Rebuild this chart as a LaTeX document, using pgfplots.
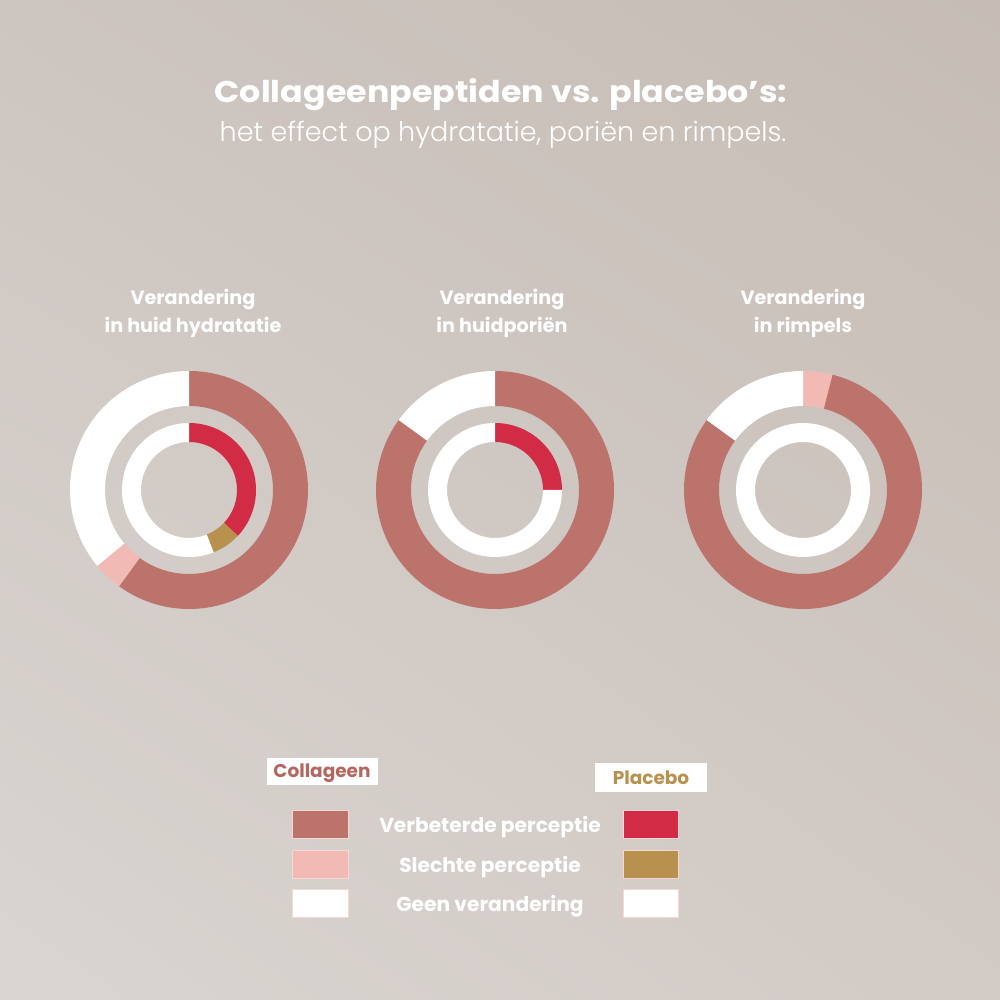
\documentclass[border=0pt]{standalone}
\usepackage{pgfplots}
\pgfplotsset{compat=1.18}
\usepackage{pgfplotstable}
\usetikzlibrary{shadings}
\usepackage{fontspec}
\setmainfont{Poppins}
\newfontfamily\plight{Poppins Light}
\definecolor{bgTL}{HTML}{CDC5C0}
\definecolor{bgTR}{HTML}{C6BCB5}
\definecolor{bgBL}{HTML}{DAD5D1}
\definecolor{bgBR}{HTML}{D2CAC5}
\definecolor{verb}{HTML}{BC736B}
\definecolor{slecht}{HTML}{F2BAB5}
\definecolor{geen}{HTML}{FFFFFF}
\definecolor{pverb}{HTML}{D22B45}
\definecolor{pslecht}{HTML}{B8914F}
\definecolor{collTxt}{HTML}{B5675F}
\definecolor{placTxt}{HTML}{B8914F}

% Collagen (outer ring) and placebo (inner ring), percentages, clockwise from 12 o'clock
\pgfplotstableread{
value color
60 verb
4 slecht
36 geen
}\hydOuter
\pgfplotstableread{
value color
37 pverb
7 pslecht
56 geen
}\hydInner
\pgfplotstableread{
value color
85 verb
15 geen
}\porOuter
\pgfplotstableread{
value color
25 pverb
75 geen
}\porInner
\pgfplotstableread{
value color
4 slecht
81 verb
15 geen
}\rimOuter
\pgfplotstableread{
value color
100 geen
}\rimInner

% #1 table, #2 cx, #3 cy, #4 inner radius, #5 outer radius
\newcommand\ring[5]{%
  \pgfplotstablegetrowsof{#1}\let\nrows\pgfplotsretval
  \xdef\cum{0}%
  \pgfmathtruncatemacro\lastrow{\nrows-1}%
  \foreach \i in {0,...,\lastrow}{%
    \pgfplotstablegetelem{\i}{value}\of{#1}\let\segval\pgfplotsretval
    \pgfplotstablegetelem{\i}{color}\of{#1}\let\segcol\pgfplotsretval
    \pgfmathsetmacro\aA{90-3.6*\cum}%
    \pgfmathsetmacro\aB{90-3.6*(\cum+\segval)}%
    \fill[\segcol] (axis cs:#2,#3) ++(\aA:#5pt) arc[start angle=\aA,end angle=\aB,radius=#5pt]
      -- ([shift={(\aB:#4pt)}]axis cs:#2,#3) arc[start angle=\aB,end angle=\aA,radius=#4pt] -- cycle;
    \pgfmathsetmacro\newcum{\cum+\segval}%
    \xdef\cum{\newcum}%
  }%
}

\begin{document}
\begin{tikzpicture}
\shade[upper left=bgTL, upper right=bgTR, lower left=bgBL, lower right=bgBR] (0,0) rectangle (1000pt,1000pt);
\begin{axis}[
  at={(0,0)}, anchor=south west,
  width=1000pt, height=1000pt, scale only axis,
  xmin=0, xmax=1000, ymin=0, ymax=1000,
  hide axis, clip=false,
]
\pgfplotsextra{%
  \ring{\hydOuter}{189}{510}{84}{119}%
  \ring{\hydInner}{189}{510}{48}{67}%
  \ring{\porOuter}{495}{510}{84}{119}%
  \ring{\porInner}{495}{510}{48}{67}%
  \ring{\rimOuter}{803}{510}{84}{119}%
  \ring{\rimInner}{803}{510}{48}{67}%
% titles
\node[anchor=base, text=white, xscale=1.11, font=\fontsize{30}{34}\selectfont\bfseries] at (axis cs:501,897) {Collageenpeptiden vs. placebo’s:};
\node[anchor=base, text=white, font=\plight\fontsize{27}{30}\selectfont] at (axis cs:503,858) {het effect op hydratatie, poriën en rimpels.};
% chart labels
\foreach \cx/\l in {193/in huid hydratatie, 502/in huidporiën, 803/in rimpels}{
  \node[anchor=base, text=white, font=\fontsize{19.2}{22}\selectfont\bfseries] at (axis cs:\cx,695) {Verandering};
  \node[anchor=base, text=white, font=\fontsize{19.2}{22}\selectfont\bfseries] at (axis cs:\cx,667) {\l};
}
% legend
\fill[white] (axis cs:267,215) rectangle (axis cs:378,242);
\node[text=collTxt, font=\fontsize{18.5}{20}\selectfont\bfseries] at (axis cs:322,227) {Collageen};
\fill[white] (axis cs:595,208) rectangle (axis cs:707,237);
\node[text=placTxt, font=\fontsize{18.5}{20}\selectfont\bfseries] at (axis cs:651,222) {Placebo};
\foreach \y/\cl/\cr/\t in {176/verb/pverb/Verbeterde perceptie, 136/slecht/pslecht/Slechte perceptie, 97/geen/geen/Geen verandering}{
  \fill[\cl, draw=slecht!60!white, line width=0.6pt] (axis cs:292,\y-14) rectangle (axis cs:348,\y+14);
  \fill[\cr, draw=slecht!60!white, line width=0.6pt] (axis cs:623,\y-14) rectangle (axis cs:678,\y+14);
  \node[text=white, font=\fontsize{20.2}{22}\selectfont\bfseries] at (axis cs:490,\y-3) {\t};
}
}
\end{axis}
\end{tikzpicture}
\end{document}
